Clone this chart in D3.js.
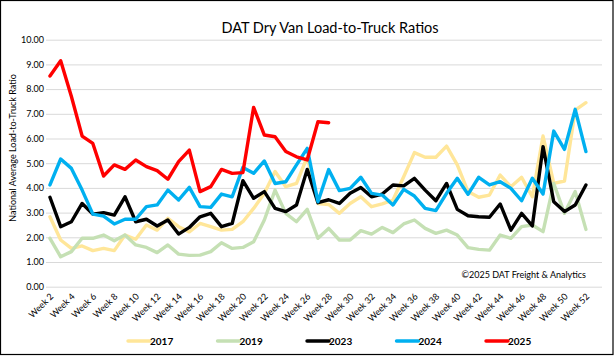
<!DOCTYPE html>
<html><head><meta charset="utf-8">
<script src="https://cdn.jsdelivr.net/npm/d3@7"></script>
<style>
body{margin:0;background:#fff;}
svg{display:block;font-family:Lato,"Open Sans",sans-serif;}
</style></head>
<body><svg id="c" width="615" height="356"></svg>
<script>
const weeks = d3.range(2, 54).map(w => "Week " + w);
const tickLabels = d3.range(2, 53, 2).map(w => "Week " + w);
const yTicks = d3.range(0, 11);
const seriesNames = ["2017", "2019", "2023", "2024", "2025"];
const seriesColors = ["#FFE699", "#C5E0B4", "#000000", "#00B0F0", "#FF0000"];

const v2017 = [2.83,1.89,1.55,1.65,1.46,1.55,1.46,2.09,1.92,2.5,2.29,2.77,2.43,2.22,
  2.56,2.43,2.29,2.32,2.63,3.17,3.78,4.66,4.05,4.18,5.26,3.37,3.33,
  2.97,3.37,3.64,3.24,3.35,3.51,4.45,5.43,5.24,5.24,5.69,4.93,3.85,
  3.62,3.71,4.52,4.05,4.43,3.64,6.1,4.18,4.28,7.15,7.45];
const v2019 = [1.96,1.21,1.42,1.96,1.96,2.09,1.86,2.09,1.69,1.59,1.38,1.69,1.32,1.27,
  1.28,1.42,1.78,1.55,1.59,1.82,2.7,3.91,2.97,2.63,3.13,1.96,2.36,
  1.89,1.89,2.27,2.13,2.4,2.19,2.54,2.7,2.36,2.16,2.29,2.09,1.58,
  1.51,1.48,2.09,1.96,2.43,2.5,2.23,4.18,2.97,3.85,2.32];
const v2023 = [3.62,2.43,2.63,3.37,2.94,3.0,2.9,3.64,2.63,2.73,2.46,2.7,2.13,2.4,
  2.83,2.97,2.43,2.56,4.29,3.58,3.85,3.17,3.04,3.31,4.75,3.4,3.52,
  3.37,3.78,4.02,3.64,3.75,4.12,4.08,4.39,3.91,3.48,4.18,3.13,2.87,
  2.83,2.81,3.35,2.29,2.97,2.46,5.67,3.44,3.04,3.31,4.12];
const v2024 = [4.12,5.17,4.79,3.91,2.94,2.86,2.54,2.73,2.73,3.24,3.31,3.91,3.51,4.02,
  3.24,3.21,3.75,3.64,4.83,4.59,5.09,4.18,4.25,4.93,5.6,3.44,4.74,
  3.89,3.98,4.43,3.78,3.71,3.31,3.94,3.67,3.17,3.08,3.78,4.39,3.74,
  4.43,4.12,4.25,3.98,3.48,4.39,3.75,6.3,5.56,7.18,5.47];
const v2025 = [8.53,9.15,7.7,6.1,5.8,4.48,4.93,4.75,5.13,4.86,4.7,4.35,5.06,5.53,
  3.85,4.05,4.75,4.59,4.62,7.26,6.14,6.07,5.47,5.26,5.13,6.68,6.64];
const seriesValues = [v2017, v2019, v2023, v2024, v2025];

const svg = d3.select("#c");
svg.append("rect").attr("x", 0.5).attr("y", 0.5).attr("width", 612.5).attr("height", 354)
  .attr("fill", "#fff").attr("stroke", "#000").attr("stroke-width", 1.2);

const x = d3.scaleBand().domain(weeks).range([44.6, 602]).padding(0);
const xc = w => x(w) + x.bandwidth() / 2;
const y = d3.scaleLinear().domain([0, 10]).range([286.7, 39.7]);

// title
svg.append("text").attr("x", 330).attr("y", 32.5).attr("text-anchor", "middle")
  .attr("font-size", 14.5).attr("fill", "#000").text("DAT Dry Van Load-to-Truck Ratios");

// gridlines + y axis
const yAxis = d3.axisLeft(y).tickValues(yTicks).tickSize(-(602 - 46)).tickFormat(d3.format(".2f")).tickPadding(2);
const gy = svg.append("g").attr("transform", "translate(46,0)").call(yAxis);
gy.select(".domain").remove();
gy.selectAll(".tick line").attr("stroke", "#d9d9d9").attr("stroke-width", 1);
gy.selectAll(".tick text").attr("font-size", 9).attr("fill", "#000").attr("font-family", "Lato");

// x axis labels
const xAxis = d3.axisBottom(x).tickValues(tickLabels).tickSize(0);
const gx = svg.append("g").attr("transform", "translate(0,287)").call(xAxis);
gx.select(".domain").remove();
gx.selectAll(".tick text").attr("font-size", 9).attr("fill", "#000").attr("font-family", "Lato")
  .attr("text-anchor", "end").attr("dy", 0).attr("y", 0)
  .attr("transform", "translate(4,10) rotate(-45)");

// y title
svg.append("text").attr("transform", "translate(16,148) rotate(-90)").attr("text-anchor", "middle")
  .attr("font-size", 9).attr("fill", "#000").text("National Average Load-to-Truck Ratio");

// copyright
svg.append("text").attr("x", 586).attr("y", 278).attr("text-anchor", "end")
  .attr("font-size", 9).attr("fill", "#000").text("\u00A92025 DAT Freight & Analytics");

// lines
const line = d3.line().x((d, i) => xc(weeks[i])).y(d => y(d));
seriesValues.forEach((vals, k) => {
  svg.append("path").datum(vals).attr("d", line).attr("fill", "none")
    .attr("stroke", seriesColors[k]).attr("stroke-width", 3.4)
    .attr("stroke-linejoin", "round").attr("stroke-linecap", "round");
});

// legend
const leg = svg.append("g");
seriesNames.forEach((n, k) => {
  const lx = 128 + k * 89.5;
  leg.append("line").attr("x1", lx).attr("x2", lx + 22).attr("y1", 341).attr("y2", 341)
    .attr("stroke", seriesColors[k]).attr("stroke-width", 3.4).attr("stroke-linecap", "round");
  leg.append("text").attr("x", lx + 22).attr("y", 344.5).attr("font-size", 10)
    .attr("font-weight", "bold").attr("fill", "#000").text(n);
});
</script></body></html>
